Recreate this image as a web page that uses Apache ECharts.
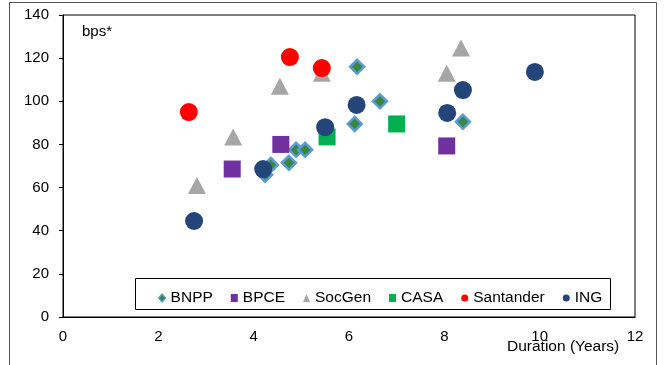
<!DOCTYPE html>
<html>
<head>
<meta charset="utf-8">
<script src="https://cdn.jsdelivr.net/npm/echarts@6/dist/echarts.min.js"></script>
<style>
html,body{margin:0;padding:0;background:#fff;}
#chart{width:670px;height:365px;}
</style>
</head>
<body>
<div id="chart"></div>
<script>
// ---- data ----
const seriesNames = ['BNPP', 'BPCE', 'SocGen', 'CASA', 'Santander', 'ING'];
const bnppX = [4.24, 4.36, 4.74, 4.89, 5.08, 6.12, 6.17, 6.65, 8.39];
const bnppY = [66, 70.5, 71.5, 77.5, 77.5, 89.5, 116, 100, 90.5];
const bpceX = [3.55, 4.57, 8.05];
const bpceY = [68.6, 80, 79.3];
const socgenX = [2.81, 3.57, 4.55, 5.43, 8.05, 8.35];
const socgenY = [61, 83.5, 107, 113, 113, 124.7];
const casaX = [5.54, 7.0];
const casaY = [83.5, 89.5];
const santanderX = [2.64, 4.76, 5.43];
const santanderY = [95, 120.5, 115.4];
const ingX = [2.75, 4.2, 5.5, 6.16, 8.06, 8.39, 9.9];
const ingY = [44.5, 68.6, 88, 98.3, 94.6, 105.2, 113.6];
const xTicks = [0, 2, 4, 6, 8, 10, 12];
const yTicks = [0, 20, 40, 60, 80, 100, 120, 140];
const xTitle = 'Duration (Years)';
const yTitle = 'bps*';

const pair = (xs, ys) => xs.map((x, i) => [x, ys[i]]);
const FONT = '"Liberation Sans", Arial, sans-serif';

const chart = echarts.init(document.getElementById('chart'), null, {renderer: 'canvas'});
chart.setOption({
  animation: false,
  backgroundColor: '#fff',
  grid: {left: 63, top: 15, right: 35, bottom: 48, show: true, borderColor: '#000', borderWidth: 1, containLabel: false},
  xAxis: {
    type: 'value', min: xTicks[0], max: xTicks[xTicks.length - 1], interval: 2,
    axisLine: {show: true, lineStyle: {color: '#000', width: 1}},
    axisTick: {show: false},
    splitLine: {show: false},
    axisLabel: {color: '#000', fontSize: 15, fontFamily: FONT, margin: 12}
  },
  yAxis: {
    type: 'value', min: yTicks[0], max: yTicks[yTicks.length - 1], interval: 20,
    axisLine: {show: true, lineStyle: {color: '#000', width: 1}},
    axisTick: {show: true, inside: false, length: 4, lineStyle: {color: '#000'}},
    splitLine: {show: false},
    axisLabel: {color: '#000', fontSize: 15, fontFamily: FONT, margin: 14}
  },
  legend: {
    left: 153, top: 285,
    itemWidth: 7, itemHeight: 8, itemGap: 18,
    textStyle: {color: '#000', fontSize: 15.5, fontFamily: FONT},
    data: [
      {name: 'BNPP', itemStyle: {borderWidth: 1.2}},
      'BPCE', 'SocGen', 'CASA', 'Santander', 'ING'
    ]
  },
  graphic: [
    {type: 'rect', shape: {x: 9.5, y: 2.5, width: 647, height: 420}, style: {fill: 'none', stroke: '#555', lineWidth: 1}, silent: true},
    {type: 'rect', shape: {x: 135.5, y: 278.5, width: 475, height: 31}, style: {fill: '#fff', stroke: '#000', lineWidth: 1}, z: 1, silent: true},
    {type: 'text', left: 82, top: 24, style: {text: yTitle, fill: '#000', font: '15px ' + FONT}},
    {type: 'text', left: 507, top: 339, style: {text: xTitle, fill: '#000', font: '15.5px ' + FONT}}
  ],
  series: [
    {name: seriesNames[0], type: 'scatter', symbol: 'diamond', symbolSize: 14, data: pair(bnppX, bnppY),
     itemStyle: {color: '#3A8540', borderColor: '#5B9BD5', borderWidth: 2.5, opacity: 1}},
    {name: seriesNames[1], type: 'scatter', symbol: 'rect', symbolSize: 17, data: pair(bpceX, bpceY),
     itemStyle: {color: '#7030A0', opacity: 1}},
    {name: seriesNames[2], type: 'scatter', symbol: 'triangle', symbolSize: [18, 17], data: pair(socgenX, socgenY),
     itemStyle: {color: '#A6A6A6', opacity: 1}},
    {name: seriesNames[3], type: 'scatter', symbol: 'rect', symbolSize: 17, data: pair(casaX, casaY),
     itemStyle: {color: '#00B050', opacity: 1}},
    {name: seriesNames[4], type: 'scatter', symbol: 'circle', symbolSize: 18, data: pair(santanderX, santanderY),
     itemStyle: {color: '#FF0000', opacity: 1}},
    {name: seriesNames[5], type: 'scatter', symbol: 'circle', symbolSize: 18, data: pair(ingX, ingY),
     itemStyle: {color: '#23457A', opacity: 1}}
  ]
});
</script>
</body>
</html>
